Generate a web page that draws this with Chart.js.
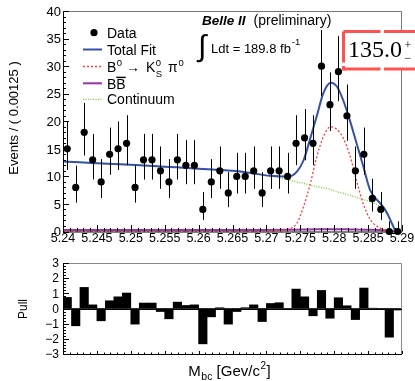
<!DOCTYPE html>
<html>
<head>
<meta charset="utf-8">
<script src="https://cdn.jsdelivr.net/npm/chart.js@4.4.0/dist/chart.umd.min.js"></script>
<style>
html, body { margin: 0; padding: 0; background: #fff; }
#wrap { position: relative; width: 415px; height: 381px; }
#top { position: absolute; left: 0; top: 0; }
#pull { position: absolute; left: 0; top: 258px; }
</style>
</head>
<body>
<div id="wrap">
<canvas id="top" width="415" height="258"></canvas>
<canvas id="pull" width="415" height="123"></canvas>
</div>
<script>
// binning of the Mbc histogram
const binLow = 5.24
const binWidth = 0.00125

// events per bin
const counts = [15, 8, 18, 13, 9, 14, 15, 16, 8, 13, 13, 11, 9, 13, 12, 12, 4, 9, 11, 7,
                10, 10, 11, 7, 11, 11, 10, 16, 17, 16, 30, 23, 29, 21, 11, 14, 6, 4, 0, 0]
// asymmetric poisson error bars
const errLow = [3.84, 2.76, 4.22, 3.58, 2.94, 3.71, 3.84, 3.96, 2.76, 3.58, 3.58, 3.27, 2.94, 3.58, 3.42, 3.42, 1.91, 2.94, 3.27, 2.58,
                3.11, 3.11, 3.27, 2.58, 3.27, 3.27, 3.11, 3.96, 4.08, 3.96, 5.45, 4.77, 5.36, 4.55, 3.27, 3.71, 2.38, 1.91, 0, 0]
const errHigh = [4.97, 3.96, 5.33, 4.71, 4.13, 4.85, 4.97, 5.10, 3.96, 4.71, 4.71, 4.42, 4.13, 4.71, 4.58, 4.58, 3.16, 4.13, 4.42, 3.77,
                 4.27, 4.27, 4.42, 3.77, 4.42, 4.42, 4.27, 5.10, 5.22, 5.10, 6.53, 5.87, 6.44, 5.66, 4.42, 4.85, 3.58, 3.16, 1.84, 1.84]

// pull per bin
const pulls = [0.73, -1.14, 1.39, 0.24, -0.81, 0.51, 0.77, 1.02, -1.03, 0.36, 0.36, -0.2, -0.68, 0.42, 0.2, 0.24, -2.33, -0.55, 0.05, -1.03,
               -0.2, 0.05, 0.24, -0.86, 0.33, 0.38, -0.05, 1.28, 0.77, -0.48, 1.19, -0.64, 0.71, 0.18, -0.73, 1.35, 0.02, -0.02, -1.89, -0.1]

// fit curves sampled off the plot
const fitMass = [5.240, 5.245, 5.250, 5.255, 5.260, 5.265, 5.268, 5.2705, 5.2732, 5.2745, 5.2755, 5.2764, 5.2774,
                 5.2784, 5.2795, 5.2804, 5.2813, 5.2823, 5.2833, 5.2843, 5.2853, 5.2868, 5.2877, 5.2885, 5.2890]
const fitTotal = [12.7, 12.4, 12.1, 11.75, 11.4, 11.0, 10.55, 10.1, 9.95, 10.85, 12.97, 16.6, 20.8,
                  25.1, 27.0, 26.3, 23.9, 20.2, 16.0, 11.8, 7.5, 5.1, 3.6, 1.5, 0.15]
const fitSignal = [0, 0, 0, 0, 0, 0, 0, 0.1, 0.45, 1.5, 4.6, 8.3, 13.4,
                   17.2, 19.0, 18.5, 17.0, 13.9, 9.2, 5.0, 2.2, 0.6, 0.2, 0.05, 0]
const fitCont = [12.7, 12.4, 12.1, 11.75, 11.4, 11.0, 10.55, 10.05, 9.4, 9.0, 8.74, 8.45, 8.15,
                 7.9, 7.6, 7.2, 6.95, 6.55, 6.2, 5.8, 5.4, 4.5, 3.3, 1.5, 0]
const fitBB = [0.25, 0.25, 0.25, 0.25, 0.25, 0.25, 0.25, 0.27, 0.3, 0.32, 0.35, 0.38, 0.4,
               0.42, 0.42, 0.42, 0.4, 0.38, 0.35, 0.32, 0.3, 0.25, 0.2, 0.1, 0]

const xTickLabels = ['5.24', '5.245', '5.25', '5.255', '5.26', '5.265', '5.27', '5.275', '5.28', '5.285', '5.29']
const yTickLabels = [0, 5, 10, 15, 20, 25, 30, 35, 40]
const pullTickLabels = [3, 2, 1, 0, -1, -2, -3]

const FONT = '"Liberation Sans", Arial, Helvetica, sans-serif'
const SERIF = '"Liberation Serif", "Times New Roman", serif'
const BLUE = '#3550a8', RED = '#ff3b3b', GREEN = '#77cc33', PURPLE = '#9933aa'

const centers = counts.map((c, i) => binLow + binWidth * (i + 0.5))

function pts(xs, ys) { return xs.map((v, i) => ({ x: v, y: ys[i] })) }

function put(ctx, s, x, y, size, style) {
  ctx.font = (style || '') + ' ' + size + 'px ' + FONT
  ctx.fillText(s, x, y)
  return x + ctx.measureText(s).width
}

const topDecor = {
  id: 'topDecor',
  afterDatasetsDraw(chart) {
    const { ctx, scales: { x, y } } = chart
    ctx.save()
    ctx.strokeStyle = '#000'
    ctx.lineWidth = 1
    ctx.beginPath()
    for (let i = 0; i < counts.length; i++) {
      const px = Math.round(x.getPixelForValue(centers[i])) + 0.5
      ctx.moveTo(px, y.getPixelForValue(counts[i] + errHigh[i]))
      ctx.lineTo(px, y.getPixelForValue(counts[i] - errLow[i]))
    }
    ctx.stroke()
    ctx.restore()
  },
  afterDraw(chart) {
    const { ctx, chartArea: a, scales: { x, y } } = chart
    ctx.save()
    // frame
    ctx.lineWidth = 1
    ctx.strokeStyle = '#777'
    ctx.beginPath()
    ctx.moveTo(a.left, a.top + 0.5); ctx.lineTo(a.right - 0.5, a.top + 0.5); ctx.lineTo(a.right - 0.5, a.bottom)
    ctx.stroke()
    ctx.strokeStyle = '#000'
    ctx.beginPath()
    ctx.moveTo(a.left + 0.5, a.top); ctx.lineTo(a.left + 0.5, a.bottom + 0.5); ctx.lineTo(a.right, a.bottom + 0.5)
    // ticks
    for (let i = 0; i <= 40; i++) {
      const py = Math.round(y.getPixelForValue(i)) + 0.5
      ctx.moveTo(a.left, py); ctx.lineTo(a.left + (i % 5 === 0 ? 6 : 3), py)
    }
    for (let i = 0; i <= 50; i++) {
      const px = Math.round(x.getPixelForValue(binLow + i * 0.001)) + 0.5
      ctx.moveTo(px, a.bottom); ctx.lineTo(px, a.bottom - (i % 5 === 0 ? 6.5 : 3.5))
    }
    ctx.stroke()

    ctx.fillStyle = '#000'
    ctx.textAlign = 'right'
    ctx.font = '13px ' + FONT
    yTickLabels.forEach(v => ctx.fillText(String(v), 61, y.getPixelForValue(v) + 4.7))
    ctx.textAlign = 'center'
    ctx.font = '12.5px ' + FONT
    xTickLabels.forEach(s => ctx.fillText(s, x.getPixelForValue(parseFloat(s)), 241.5))

    // y title
    ctx.save()
    ctx.translate(18.3, 118)
    ctx.rotate(-Math.PI / 2)
    ctx.font = '13px ' + FONT
    ctx.fillText('Events / ( 0.00125 )', 0, 0)
    ctx.restore()

    // legend
    ctx.textAlign = 'left'
    ctx.beginPath(); ctx.arc(94, 32.7, 3.6, 0, Math.PI * 2); ctx.fill()
    put(ctx, 'Data', 107, 37.7, 14)
    const sample = (yy, col, w, dash) => {
      ctx.save(); ctx.strokeStyle = col; ctx.lineWidth = w; ctx.setLineDash(dash)
      ctx.beginPath(); ctx.moveTo(83, yy); ctx.lineTo(102, yy); ctx.stroke(); ctx.restore()
    }
    sample(49.5, BLUE, 2, [])
    put(ctx, 'Total Fit', 107, 54.5, 14)
    sample(66.5, RED, 1.3, [2, 2])
    let cx = put(ctx, 'B', 107, 71.7, 14)
    cx = put(ctx, '0', cx + 0.5, 66, 9.5)
    cx = put(ctx, ' \u2192 ', cx, 71.7, 14)
    cx = put(ctx, 'K', cx + 2, 71.7, 14)
    put(ctx, '0', cx + 0.5, 66, 9.5)
    cx = put(ctx, 'S', cx + 0.5, 76.5, 9.5)
    cx = put(ctx, ' \u03c0', cx + 2, 71.7, 14)
    put(ctx, '0', cx + 1, 66, 9.5)
    sample(83.3, PURPLE, 2, [])
    cx = put(ctx, 'B', 107, 88.5, 14)
    const bx = cx
    cx = put(ctx, 'B', cx, 88.5, 14)
    ctx.fillRect(bx, 76.7, cx - bx, 1.4)
    sample(99.3, GREEN, 1.3, [1, 1.5])
    put(ctx, 'Continuum', 107, 104.3, 14)

    // experiment label
    cx = put(ctx, 'Belle II', 202, 25, 13.5, 'italic bold')
    put(ctx, '(preliminary)', cx + 8, 25, 14)
    put(ctx, '\u222b', 198, 56, 30, '')
    cx = put(ctx, 'Ldt = 189.8 fb', 211, 53, 13)
    put(ctx, '-1', cx + 1, 45, 9.5)

    // red dashed box
    ctx.fillStyle = '#fff'
    ctx.fillRect(343, 31, 80, 39)
    ctx.strokeStyle = '#ff5252'
    ctx.lineWidth = 3
    ctx.setLineDash([37, 3.5])
    ctx.beginPath(); ctx.moveTo(343.5, 31.5); ctx.lineTo(430, 31.5); ctx.stroke()
    ctx.beginPath(); ctx.moveTo(343.5, 69); ctx.lineTo(430, 69); ctx.stroke()
    ctx.setLineDash([31, 3.5])
    ctx.beginPath(); ctx.moveTo(343.5, 31.5); ctx.lineTo(343.5, 70.5); ctx.stroke()
    ctx.setLineDash([])
    ctx.fillStyle = '#000'
    ctx.font = '24px ' + SERIF
    ctx.fillText('135.0', 348, 56.7)
    ctx.font = '12px ' + SERIF
    ctx.fillText('+', 404.5, 49)
    ctx.fillText('\u2212', 404.5, 62)
    ctx.restore()
  }
}

const pullDecor = {
  id: 'pullDecor',
  afterDraw(chart) {
    const { ctx, chartArea: a, scales: { x, y } } = chart
    ctx.save()
    ctx.lineWidth = 1
    ctx.strokeStyle = '#888'
    ctx.beginPath()
    ctx.moveTo(a.left, a.top + 0.5); ctx.lineTo(a.right - 0.5, a.top + 0.5); ctx.lineTo(a.right - 0.5, a.bottom)
    ctx.stroke()
    ctx.strokeStyle = '#000'
    ctx.beginPath()
    ctx.moveTo(a.left + 0.5, a.top); ctx.lineTo(a.left + 0.5, a.bottom + 0.5); ctx.lineTo(a.right, a.bottom + 0.5)
    const zy = Math.round(y.getPixelForValue(0)) + 0.5
    ctx.moveTo(a.left, zy); ctx.lineTo(a.right, zy)
    for (let i = 0; i <= 30; i++) {
      const py = Math.round(y.getPixelForValue(-3 + i * 0.2)) + 0.5
      ctx.moveTo(a.left, py); ctx.lineTo(a.left + (i % 5 === 0 ? 6 : 3), py)
    }
    for (let i = 0; i <= 50; i++) {
      const px = Math.round(x.getPixelForValue(binLow + i * 0.001)) + 0.5
      ctx.moveTo(px, a.bottom); ctx.lineTo(px, a.bottom - (i % 5 === 0 ? 3 : 1.5))
    }
    ctx.stroke()

    ctx.fillStyle = '#000'
    ctx.textAlign = 'right'
    ctx.font = '12px ' + FONT
    pullTickLabels.forEach(v => ctx.fillText(v < 0 ? '\u2212' + (-v) : String(v), 59, y.getPixelForValue(v) + 4.3))

    ctx.save()
    ctx.translate(27.3, 309 - 258)
    ctx.rotate(-Math.PI / 2)
    ctx.textAlign = 'center'
    ctx.font = '12px ' + FONT
    ctx.fillText('Pull', 0, 0)
    ctx.restore()

    ctx.textAlign = 'left'
    let cx = put(ctx, 'M', 188.3, 118, 15)
    cx = put(ctx, 'bc', cx + 0.5, 121.5, 10.5)
    cx = put(ctx, ' [Gev/c', cx, 118, 15)
    cx = put(ctx, '2', cx + 0.5, 111, 10)
    put(ctx, ']', cx + 0.5, 118, 15)
    ctx.restore()
  }
}

const common = {
  responsive: false,
  animation: false,
  events: [],
  plugins: { legend: { display: false }, tooltip: { enabled: false } }
}

new Chart(document.getElementById('top'), {
  type: 'scatter',
  data: {
    datasets: [
      { type: 'scatter', data: pts(centers, counts), pointRadius: 3.6, backgroundColor: '#000', borderWidth: 0, clip: false },
      { type: 'line', data: pts(fitMass, fitTotal), borderColor: BLUE, borderWidth: 2, pointRadius: 0, cubicInterpolationMode: 'monotone' },
      { type: 'line', data: pts(fitMass, fitSignal), borderColor: RED, borderWidth: 1.3, borderDash: [2, 2], pointRadius: 0, cubicInterpolationMode: 'monotone' },
      { type: 'line', data: pts(fitMass, fitCont), borderColor: GREEN, borderWidth: 1.3, borderDash: [1, 1.5], pointRadius: 0, cubicInterpolationMode: 'monotone' },
      { type: 'line', data: pts(fitMass, fitBB), borderColor: PURPLE, borderWidth: 2, pointRadius: 0, cubicInterpolationMode: 'monotone' }
    ]
  },
  options: Object.assign({}, common, {
    layout: { padding: { left: 63, right: 13, top: 11, bottom: 26.5 } },
    scales: {
      x: { type: 'linear', min: 5.24, max: 5.29, display: false },
      y: { type: 'linear', min: 0, max: 40, display: false }
    }
  }),
  plugins: [topDecor]
})

new Chart(document.getElementById('pull'), {
  type: 'bar',
  data: {
    datasets: [
      { data: pts(centers, pulls), backgroundColor: '#000', borderWidth: 0, barPercentage: 1, categoryPercentage: 1 }
    ]
  },
  options: Object.assign({}, common, {
    layout: { padding: { left: 63, right: 13, top: 5, bottom: 27 } },
    scales: {
      x: { type: 'linear', min: 5.24, max: 5.29, offset: false, display: false },
      y: { type: 'linear', min: -3, max: 3, display: false }
    }
  }),
  plugins: [pullDecor]
})
</script>
</body>
</html>
